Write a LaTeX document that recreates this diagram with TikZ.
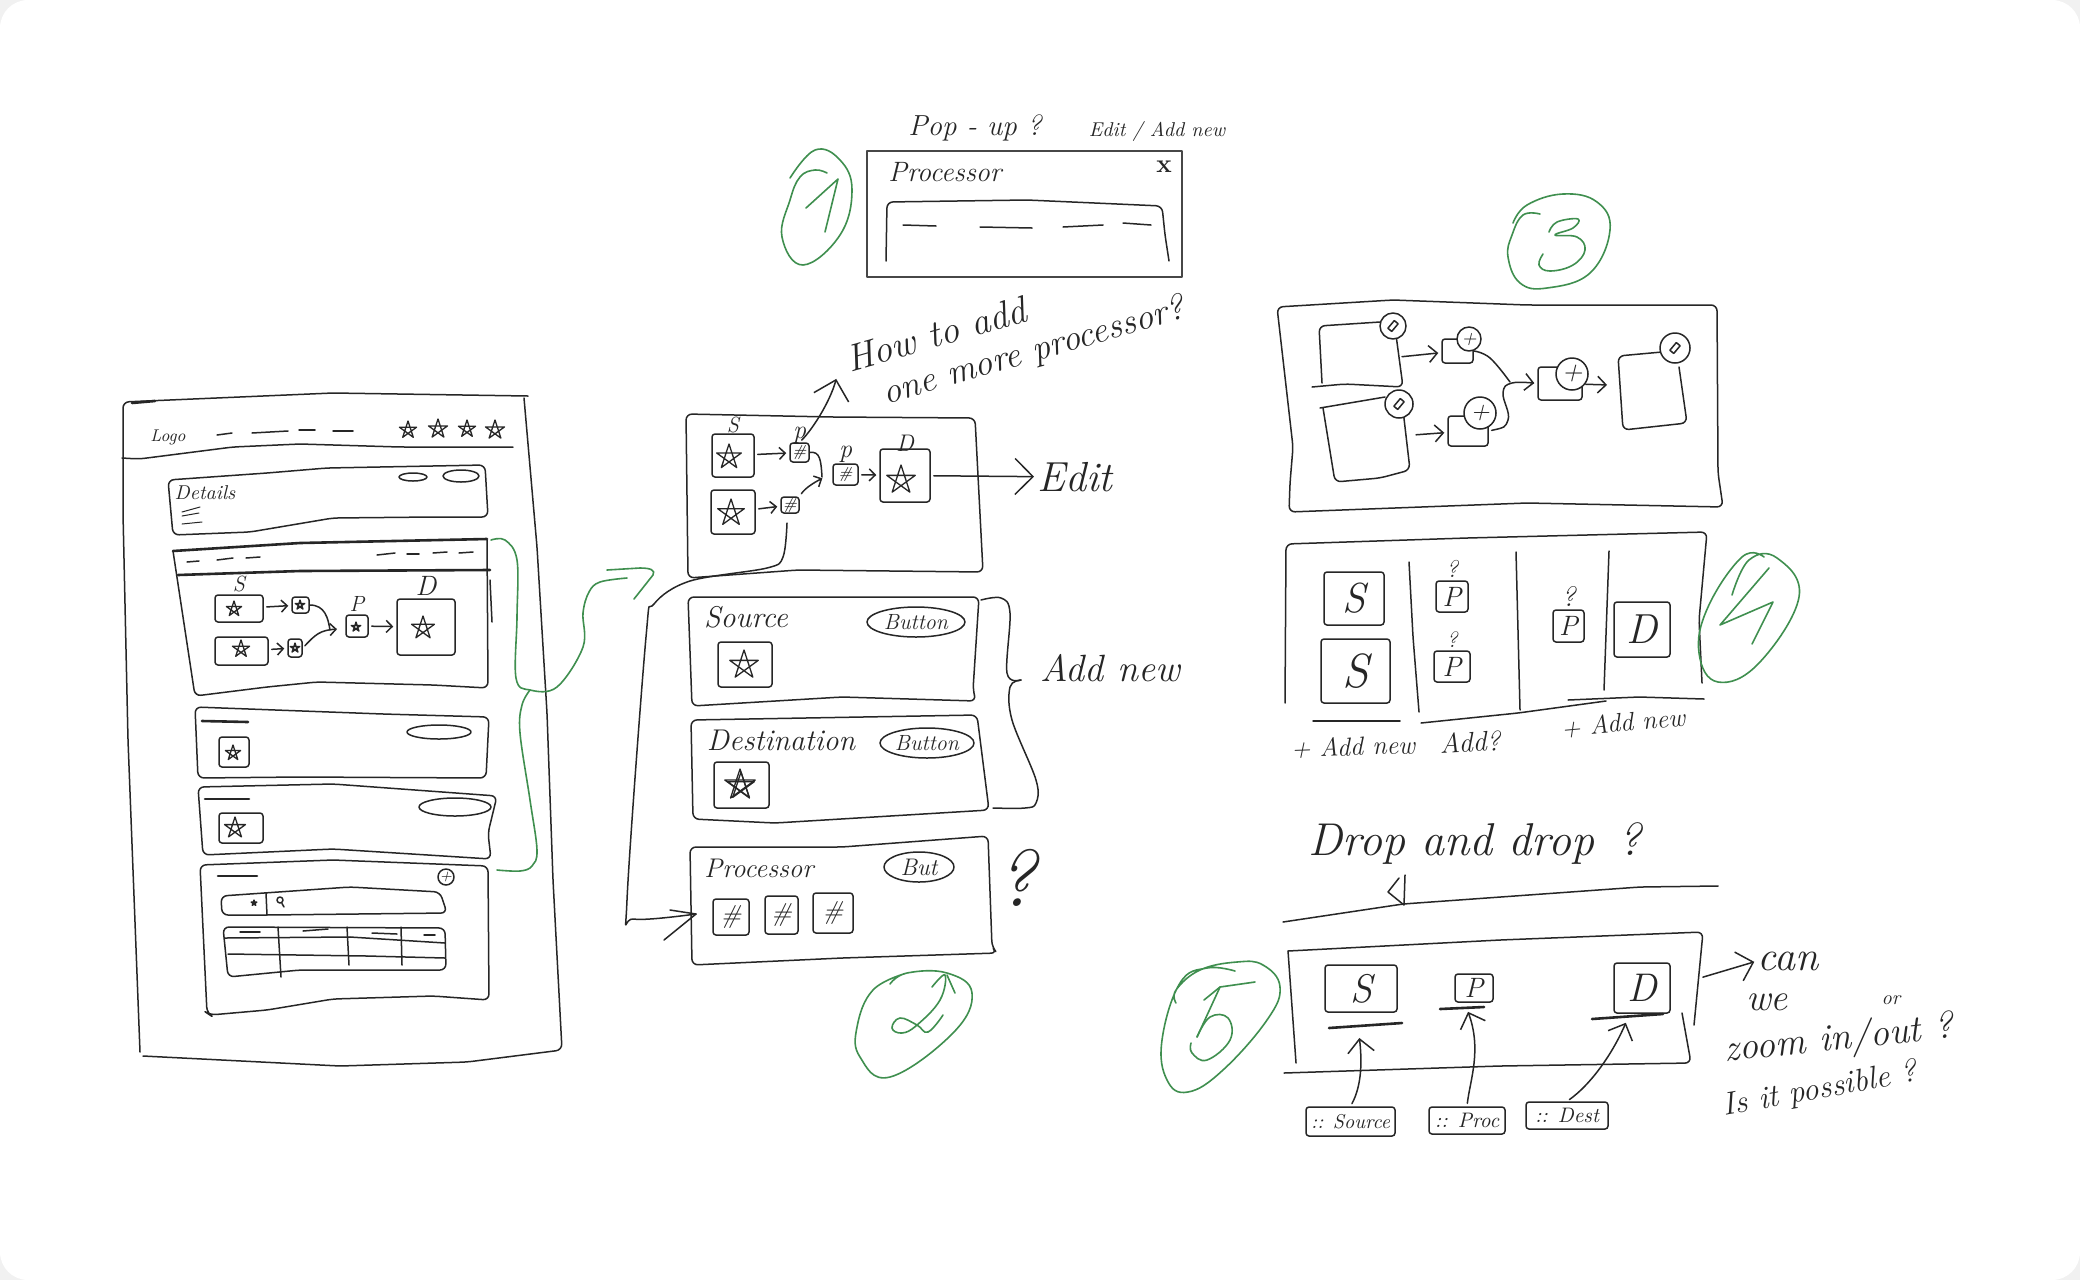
\documentclass[tikz,border=0pt]{standalone}
\usepackage{fontspec}
\usetikzlibrary{positioning,fit,arrows.meta,shapes.geometric}
\definecolor{ink}{HTML}{262626}
\definecolor{markgreen}{HTML}{3F8F4F}
\definecolor{cornergray}{HTML}{F1F1F1}
\newcommand{\hstar}[3]{\draw[pen,line width=.65pt,shift={(#1,#2)},scale=#3] (0,-1) -- (.59,.81) -- (-.95,-.31) -- (.95,-.31) -- (-.59,.81) -- cycle;}
\newcommand{\hpencil}[2]{\draw[pen,shift={(#1,#2)},rotate=50] (-5,-2.5) rectangle (5,2.5);}
\tikzset{
pen/.style={draw=ink,line width=.75pt,line cap=round,line join=round},
heavy/.style={pen,line width=1.3pt},
panel/.style={pen,rounded corners=3pt},
greenmark/.style={draw=markgreen,line width=.8pt,line cap=round,line join=round},
stepbox/.style={pen,inner sep=0,rounded corners=1.5pt},
oval/.style={pen,ellipse,inner sep=0},
dotbtn/.style={pen,circle,fill=white,inner sep=0},
hand/.style={font=\itshape\fontsize{#1}{#1}\selectfont,text=ink,inner sep=0},
harrow/.style={pen,-{Straight Barb[length=3pt,width=6pt,scale=#1]},shorten >=1.5pt,shorten <=1.5pt},
harrow/.default=1}

\begin{document}
\begin{tikzpicture}[x=.5pt,y=-.5pt]
\path[use as bounding box] (0,0) rectangle (2080,1280);
\fill[cornergray] (0,0) rectangle (2080,1280);
\fill[white,rounded corners=14pt] (0,0) rectangle (2080,1280);

% 1
\node (popFrame) [pen,line width=1.1pt,draw=ink!85,inner sep=0,fit={(867,151) (1182,277)}] {};
\node (popTitle) [hand=14] at (945,172) {Processor};
\node (popClose) [hand=13,font=\bfseries\fontsize{13}{13}\selectfont] at (1164,167) {x};
\node (popAsk) [hand=14.5] at (975,128) {Pop - up ?};
\node (popEdit) [hand=10] at (1157,131) {Edit / Add new};
\draw[panel] (886,261) -- (887,202) -- (1027,200) -- (1162,206) -- (1165,235) -- (1169,261);
\foreach \xa/\ya/\xb/\yb in {903/225/936/226,980/227/1032/228,1063/227/1103/225,1123/223/1151/225}
  \draw[pen] (\xa,\ya) -- (\xb,\yb);
\draw[greenmark] plot[smooth,tension=.7] coordinates {(790,178) (815,150) (840,160) (852,190) (840,235) (803,265) (782,237) (790,200) (800,177) (815,170) (827,173)};
\draw[greenmark] (806,208) -- (838,179) -- (825,232);

% page
\draw[panel] (528,396) -- (333,393) -- (123,402) -- (123,513) -- (128,740) -- (140,1052);
\draw[panel] (524,398) -- (537,547) -- (547,713) -- (553,880) -- (562,1050) -- (467,1062) -- (340,1066) -- (143,1056);
\draw[heavy] (132,403) -- (155,401);
\draw[panel] (122,458) -- (139,459) -- (233,447) -- (300,444) -- (400,447) -- (513,447);
\node (pageLogo) [hand=8.5] at (168,437) {Logo};
\foreach \xa/\ya/\xb/\yb in {217/435/232/433,252/433/288/431,299/430/315/430,333/431/353/431}
  \draw[pen] (\xa,\ya) -- (\xb,\yb);
\foreach \xs/\ys/\rs in {408/430/9,438/429/10,467/429/9,495/430/10}
  {\hstar{\xs}{\ys}{\rs}}

\draw[panel] (168,480) -- (267,473) -- (327,468) -- (485,465) -- (488,517) -- (433,517) -- (333,518) -- (250,532) -- (173,535) -- cycle;
\node (pageDetails) [hand=10] at (205,493) {Details};
\foreach \xa/\ya/\xb/\yb in {182/512/200/507,182/516/199/513,182/524/202/522}
  \draw[pen,line width=.5pt] (\xa,\ya) -- (\xb,\yb);
\node (detailsOvalA) [oval,minimum width=14pt,minimum height=4pt] at (413,477) {};
\node (detailsOvalB) [oval,minimum width=18pt,minimum height=6pt] at (461,476) {};

\draw[heavy] (173,551) -- (300,543) -- (487,539);
\draw[heavy] (178,575) -- (300,571) -- (490,570);
\draw[panel] (487,540) -- (488,688) -- (433,685) -- (317,682) -- (267,687) -- (195,696) -- (173,551);
\draw[pen] (490,580) -- (492,622);
\foreach \xa/\ya/\xb/\yb in {187/562/199/561,217/560/233/558,246/558/260/557,377/555/395/553,407/554/419/554,433/553/447/552,459/553/473/552}
  \draw[pen] (\xa,\ya) -- (\xb,\yb);
\node (miniS1) [stepbox,fit={(215,595) (263,622)}] {};
\node (miniP1) [stepbox,fit={(292,597) (309,613)}] {};
\node (miniS2) [stepbox,fit={(215,637) (268,665)}] {};
\node (miniP2) [stepbox,fit={(288,639) (302,657)}] {};
\node (miniP3) [stepbox,fit={(346,615) (368,637)}] {};
\node (miniD) [stepbox,fit={(397,599) (455,655)}] {};
\node (miniSLbl) [hand=11,above=1pt of miniS1] {S};
\node (miniPLbl) [hand=11,above=1pt of miniP3] {P};
\node (miniDLbl) [hand=14,above=1pt of miniD] {D};
\foreach \xs/\ys/\rs in {234/609/8,300/605/5,241/649/9,295/648/5,356/627/5,423/628/12}
  {\hstar{\xs}{\ys}{\rs}}
\draw[harrow] (miniS1) -- (miniP1);
\draw[harrow] (miniS2) -- (miniP2);
\draw[harrow] (miniP3) -- (miniD);
\coordinate (miniJoin) at (340,629);
\draw[pen] (miniP1.east) .. controls (325,605) and (328,618) .. (330,630);
\draw[harrow] (miniP2.east) .. controls (315,635) and (320,630) .. (miniJoin);

\draw[panel] (195,707) -- (383,714) -- (489,717) -- (486,778) -- (300,777) -- (198,778) -- cycle;
\draw[heavy] (202,721) -- (248,722);
\node (listOvalA) [oval,minimum width=32pt,minimum height=7pt] at (439,732) {};
\node (listIconA) [stepbox,fit={(219,737) (249,767)}] {};
\hstar{233}{753}{8}
\draw[panel] (198,787) -- (333,784) -- (497,796) -- (488,833) -- (491,859) -- (333,849) -- (203,855) -- cycle;
\draw[heavy] (205,799) -- (249,799);
\node (listOvalB) [oval,minimum width=36pt,minimum height=9pt] at (455,807) {};
\node (listIconB) [stepbox,fit={(219,813) (263,843)}] {};
\hstar{235}{828}{11}
\draw[panel] (200,865) -- (333,860) -- (488,866) -- (489,1000) -- (433,996) -- (333,999) -- (267,1010) -- (210,1015) -- (207,1013) -- cycle;
\draw[heavy] (218,876) -- (257,876);
\node (listPlus) [dotbtn,hand=7,minimum size=8pt,pen] at (446,877) {+};
\draw[panel] (221,896) -- (350,887) -- (440,892) -- (447,913) -- (267,915) -- (222,915) -- cycle;
\draw[pen] (266,893) -- (267,915);
\hstar{254}{903}{3}
\node (listSearch) [dotbtn,minimum size=3pt] at (280,900) {};
\draw[pen] (listSearch) -- (284,907);
\draw[panel] (223,927) -- (445,928) -- (446,970) -- (300,970) -- (228,977) -- cycle;
\foreach \xa/\ya/\xb/\yb in {225/938/350/937,350/937/445/943,228/954/367/956,367/956/445/958,278/927/281/977,347/927/349/965,401/927/402/965,240/932/260/932,303/931/328/929,372/933/397/934,424/935/435/935}
  \draw[pen] (\xa,\ya) -- (\xb,\yb);

% links of the page
\coordinate (flowEdge) at (491,540);
\coordinate (greenJoin) at (530,690);
\coordinate (greenEnd) at (627,578);
\coordinate (listEdge) at (497,870);
\draw[greenmark] plot[smooth,tension=.6] coordinates {(flowEdge) (505,540) (517,560) (517,617) (516,678) (greenJoin) (557,687) (583,647) (583,613) (589,592) (600,582) (greenEnd)};
\draw[greenmark] (607,570) -- (640,568) .. controls (650,568) and (656,570) .. (653,575) -- (634,599);
\draw[greenmark] plot[smooth,tension=.6] coordinates {(greenJoin) (522,705) (520,733) (530,800) (537,850) (532,866) (520,871) (listEdge)};

% 2
\draw[panel] (686,414) -- (832,417) -- (975,418) -- (983,572) -- (798,570) -- (688,578) -- cycle;
\node (flowS1) [stepbox,fit={(712,434) (754,477)}] {};
\node (flowP1) [stepbox,fit={(790,443) (809,462)},label={[hand=8]center:\#}] {};
\node (flowS2) [stepbox,fit={(711,490) (755,534)}] {};
\node (flowP2) [stepbox,fit={(781,497) (799,513)},label={[hand=8]center:\#}] {};
\node (flowP3) [stepbox,fit={(833,464) (858,485)},label={[hand=8]center:\#}] {};
\node (flowD) [stepbox,fit={(880,449) (930,502)}] {};
\node (flowSLbl) [hand=11,above=0pt of flowS1] {S};
\node (flowPLblA) [hand=13,above=-1pt of flowP1] {p};
\node (flowPLblB) [hand=13,above=0pt of flowP3] {p};
\node (flowDLbl) [hand=12,above=-2pt of flowD] {D};
\foreach \xs/\ys/\rs in {729/457/13,731/513/14,901/480/15}
  {\hstar{\xs}{\ys}{\rs}}
\draw[harrow] (flowS1) -- (flowP1);
\draw[harrow] (flowS2) -- (flowP2);
\draw[harrow] (flowP3) -- (flowD);
\coordinate (flowJoin) at (825,477);
\draw[pen] (flowP1.east) .. controls (820,451) and (821,460) .. (822,477);
\draw[harrow] (flowP2.north east) .. controls (805,488) and (815,482) .. (flowJoin);
\node (flowEdit) [hand=21] at (1075,477) {Edit};
\node (flowAskA) [hand=19,rotate=16] at (936,334) {How to add};
\node (flowAskB) [hand=18,rotate=16] at (1034,352) {one more processor?};
\coordinate (flowAskTip) at (837,376);
\draw[harrow=3] (flowD) -- (flowEdit);
\draw[harrow=3] (flowP1.north) .. controls (812,430) and (830,402) .. (flowAskTip);

\draw[panel] (688,597) -- (979,597) -- (973,690) -- (976,701) -- (842,697) -- (692,706) -- cycle;
\node (srcTitle) [hand=15] at (746,617) {Source};
\node (srcBtn) [oval,hand=11,pen,minimum width=49pt,minimum height=15pt] at (916,622) {Button};
\node (srcIcon) [stepbox,fit={(718,642) (772,687)}] {};
\hstar{744}{665}{15}
\draw[panel] (691,720) -- (977,715) -- (989,810) -- (775,823) -- (693,819) -- cycle;
\node (dstTitle) [hand=15] at (781,740) {Destination};
\node (dstBtn) [oval,hand=11,pen,minimum width=47pt,minimum height=15pt] at (927,743) {Button};
\node (dstIcon) [stepbox,fit={(714,762) (769,808)}] {};
\hstar{740}{785}{16}
\hstar{741}{786}{14}
\draw[panel] (690,847) -- (842,847) -- (988,836) -- (992,947) -- (997,953) -- (842,958) -- (692,965) -- cycle;
\node (procTitle) [hand=13.5] at (759,868) {Processor};
\node (procBtn) [oval,hand=12,pen,minimum width=35pt,minimum height=15pt] at (919,867) {But};
\node (procIconA) [stepbox,fit={(713,899) (749,935)},label={[hand=13]center:\#}] {};
\node (procIconB) [stepbox,fit={(765,896) (798,934)},label={[hand=13]center:\#}] {};
\node (procIconC) [stepbox,fit={(813,893) (853,933)},label={[hand=13]center:\#}] {};
\node (procAsk) [hand=40] at (1016,878) {?};
\node (addNewLbl) [hand=19] at (1110,668) {Add new};
\draw[pen] plot[smooth,tension=.6] coordinates {(981,600) (1001,598) (1010,613) (1007,673) (1021,680)};
\draw[pen] plot[smooth,tension=.6] coordinates {(1021,680) (1010,687) (1012,720) (1036,780) (1036,803) (1025,808) (993,808)};
\coordinate (procTip) at (696,914);
\draw[pen] plot[smooth,tension=.55] coordinates {(787,523) (783,557) (767,568) (690,581) (654,604) (646,637) (627,900) (634,919) (procTip)};
\draw[pen] (670,910) -- (procTip) -- (664,940);

\draw[greenmark] plot[smooth,tension=.7] coordinates {(890,984) (907,973) (947,973) (972,993) (953,1033) (890,1077) (860,1057) (857,1027) (873,990) (907,973)};
\draw[greenmark] plot[smooth,tension=.7] coordinates {(932,987) (945,975) (940,1000) (917,1025) (902,1033) (892,1028) (900,1018) (917,1025) (928,1032) (943,1015)};
\draw[greenmark] (947,975) -- (955,993);

% 3
\draw[greenmark] plot[smooth,tension=.7] coordinates {(1540,214) (1523,215) (1512,235) (1508,257) (1520,283) (1547,288) (1590,273) (1610,230) (1597,202) (1563,194) (1527,205) (1513,223)};
\draw[greenmark] plot[smooth,tension=.7] coordinates {(1549,232) (1557,222) (1578,219) (1573,228) (1555,235) (1577,237) (1585,250) (1573,265) (1550,271) (1539,265) (1543,254)};
\draw[panel] (1277,307) -- (1393,300) -- (1527,305) -- (1717,305) -- (1718,473) -- (1723,507) -- (1527,503) -- (1289,512) -- (1290,483) -- (1293,447) -- cycle;
\draw[panel] (1380,322) -- (1319,326) -- (1322,383);
\draw[panel] (1312,387) -- (1345,384) -- (1403,387) -- (1396,335);
\draw[panel] (1385,397) -- (1320,408);
\draw[panel] (1323,408) -- (1335,482) -- (1380,478) -- (1410,470) -- (1403,410);
\node (addBoxA) [stepbox,fit={(1442,339) (1473,363)}] {};
\node (addBoxB) [stepbox,fit={(1448,416) (1488,446)}] {};
\node (addBoxC) [stepbox,fit={(1538,367) (1582,400)}] {};
\draw[panel] (1662,352) -- (1618,356) -- (1623,430) -- (1687,423) -- (1679,367);
\node (editDotA) [dotbtn,minimum size=13pt] at (1393,326) {};
\node (editDotB) [dotbtn,minimum size=14pt] at (1399,404) {};
\node (editDotC) [dotbtn,minimum size=15pt] at (1675,348) {};
\hpencil{1393}{326}
\hpencil{1399}{404}
\hpencil{1675}{348}
\node (plusDotA) [dotbtn,hand=10,pen,minimum size=12pt] at (1469,339) {+};
\node (plusDotB) [dotbtn,hand=13,pen,minimum size=16pt] at (1480,413) {+};
\node (plusDotC) [dotbtn,hand=14,pen,minimum size=16pt] at (1572,374) {+};
\coordinate (outA) at (1399,357);
\coordinate (outB) at (1413,435);
\coordinate (inD) at (1610,385);
\draw[harrow=1.4] (outA) -- (addBoxA);
\draw[harrow=1.4] (outB) -- (addBoxB);
\draw[harrow=1.4] (addBoxC) -- (inD);
\draw[pen] plot[smooth,tension=.7] coordinates {(addBoxA.east) (1490,358) (1510,382)};
\draw[harrow=1.4] plot[smooth,tension=.7] coordinates {(addBoxB.east) (1508,420) (1503,393) (1512,383) (addBoxC.west)};

% 4
\draw[panel] (1285,703) -- (1286,544) -- (1467,538) -- (1707,532) -- (1699,620) -- (1702,683);
\draw[pen] (1313,721) -- (1400,721);
\draw[panel] (1421,723) -- (1518,713) -- (1606,701);
\draw[panel] (1568,700) -- (1639,697) -- (1704,699);
\draw[panel] (1409,562) -- (1413,637) -- (1419,712);
\draw[pen] (1516,552) -- (1520,710);
\draw[pen] (1609,551) -- (1604,690);
\node (barS1) [stepbox,fit={(1324,572) (1384,625)},label={[hand=21]center:S}] {};
\node (barS2) [stepbox,fit={(1321,639) (1390,703)},label={[hand=24]center:S}] {};
\node (barP1) [stepbox,fit={(1436,581) (1468,612)},label={[hand=14]center:P}] {};
\node (barP2) [stepbox,fit={(1434,651) (1470,682)},label={[hand=14]center:P}] {};
\node (barP3) [stepbox,fit={(1553,610) (1584,642)},label={[hand=14]center:P}] {};
\node (barD) [stepbox,fit={(1614,602) (1670,657)},label={[hand=21]center:D}] {};
\node (barAskA) [hand=12,above=1pt of barP1] {?};
\node (barAskB) [hand=11,above=1pt of barP2] {?};
\node (barAskC) [hand=14,above=1pt of barP3] {?};
\node (barAddA) [hand=13,rotate=2] at (1353,747) {+ Add new};
\node (barAddB) [hand=14,rotate=3] at (1470,742) {Add?};
\node (barAddC) [hand=13,rotate=5] at (1623,723) {+ Add new};
\draw[greenmark] plot[smooth,tension=.7] coordinates {(1764,557) (1742,557) (1708,607) (1699,653) (1718,682) (1759,663) (1799,597) (1777,558) (1749,560) (1732,595)};
\draw[greenmark] (1769,568) -- (1720,625) -- (1773,602) -- (1752,644);

% 5
\node (dndTitle) [hand=23] at (1475,843) {Drop and drop \,?};
\draw[pen] (1405,875) -- (1404,905) -- (1388,892) -- (1399,878);
\draw[panel] (1283,922) -- (1403,904) -- (1640,887) -- (1718,886);
\draw[pen] (1296,1063) -- (1288,951);
\draw[panel] (1288,951) -- (1500,940) -- (1703,932) -- (1694,1025);
\draw[panel] (1284,1073) -- (1500,1066) -- (1691,1063) -- (1682,1013);
\node (dropS) [stepbox,fit={(1325,965) (1397,1012)},label={[hand=20]center:S}] {};
\node (dropP) [stepbox,fit={(1455,974) (1493,1002)},label={[hand=14]center:P}] {};
\node (dropD) [stepbox,fit={(1614,963) (1670,1013)},label={[hand=20]center:D}] {};
\node (tagSrc) [stepbox,fit={(1306,1107) (1395,1136)},label={[hand=10]center:{:: Source}}] {};
\node (tagProc) [stepbox,fit={(1429,1107) (1505,1134)},label={[hand=10.5]center:{:: Proc}}] {};
\node (tagDst) [stepbox,fit={(1526,1102) (1608,1129)},label={[hand=10.5]center:{:: Dest}}] {};
\coordinate (slotS) at (1359,1035);
\coordinate (slotP) at (1467,1009);
\coordinate (slotD) at (1627,1020);
\draw[heavy] (1329,1028) -- (1402,1023);
\draw[heavy] (1440,1009) -- (1484,1007);
\draw[heavy] (1592,1019) -- (1663,1014);
\draw[harrow=2.2] (tagSrc.north) .. controls (1362,1085) and (1362,1060) .. (slotS);
\draw[harrow=2.2] (tagProc.north) .. controls (1470,1080) and (1482,1050) .. (slotP);
\draw[harrow=2.2] (tagDst.north) .. controls (1590,1085) and (1612,1055) .. (slotD);
\coordinate (panelSide) at (1700,978);
\node (zoomCan) [hand=21] at (1788,961) {can};
\node (zoomWe) [hand=19] at (1767,1002) {we};
\node (zoomOr) [hand=10] at (1891,1000) {or};
\node (zoomInOut) [hand=19,rotate=6] at (1839,1040) {zoom in/out ?};
\node (zoomAsk) [hand=16,rotate=10] at (1820,1090) {Is it possible ?};
\draw[harrow=2.5] (panelSide) -- (zoomCan.west);
\draw[greenmark] plot[smooth,tension=.7] coordinates {(1235,971) (1207,968) (1180,983) (1162,1040) (1167,1080) (1188,1092) (1223,1070) (1267,1020) (1280,987) (1263,965) (1237,962) (1200,970) (1176,990) (1176,1003)};
\draw[greenmark] (1255,982) -- (1220,987) -- (1204,1000);
\draw[greenmark] (1220,987) -- (1197,1037);
\draw[greenmark] plot[smooth,tension=.7] coordinates {(1197,1037) (1210,1017) (1228,1018) (1230,1040) (1207,1060) (1192,1053) (1191,1043)};
\end{tikzpicture}
\end{document}
